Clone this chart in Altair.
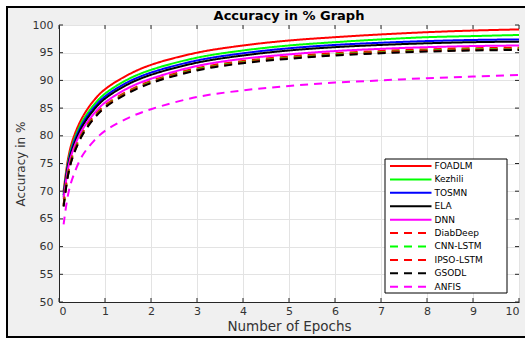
import altair as alt
import pandas as pd

epochs = [0.1, 0.2, 0.3, 0.5, 0.75, 1, 1.5, 2, 3, 4, 5, 6, 7, 8, 9, 10]

foadlm   = [70.0, 76.0, 79.3, 83.2, 86.3, 88.4, 91.0, 92.8, 95.0, 96.3, 97.2, 97.8, 98.3, 98.7, 99.0, 99.2]
kezhili  = [69.6, 75.4, 78.6, 82.5, 85.5, 87.6, 90.2, 91.9, 94.1, 95.4, 96.3, 96.9, 97.4, 97.8, 98.0, 98.2]
tosmn    = [69.3, 75.0, 78.2, 82.0, 85.0, 87.1, 89.7, 91.4, 93.6, 94.9, 95.8, 96.4, 96.8, 97.1, 97.3, 97.4]
ela      = [69.0, 74.7, 77.8, 81.6, 84.6, 86.7, 89.3, 91.0, 93.2, 94.5, 95.4, 96.0, 96.4, 96.7, 96.9, 97.0]
dnn      = [68.6, 74.2, 77.3, 81.0, 83.9, 86.0, 88.6, 90.3, 92.6, 93.9, 94.7, 95.3, 95.7, 96.0, 96.2, 96.3]
diabdeep = [67.6, 73.4, 76.6, 80.4, 83.4, 85.5, 88.1, 89.9, 92.2, 93.5, 94.3, 94.9, 95.3, 95.6, 95.8, 95.9]
cnnlstm  = [67.4, 73.2, 76.4, 80.2, 83.2, 85.3, 87.9, 89.7, 92.0, 93.3, 94.1, 94.7, 95.1, 95.4, 95.6, 95.7]
ipsolstm = [67.3, 73.1, 76.3, 80.1, 83.1, 85.2, 87.8, 89.6, 91.9, 93.2, 94.0, 94.6, 95.0, 95.3, 95.5, 95.6]
gsodl    = [67.2, 73.0, 76.2, 80.0, 83.0, 85.1, 87.7, 89.5, 91.8, 93.1, 93.9, 94.5, 94.9, 95.2, 95.4, 95.5]
anfis    = [64.0, 69.5, 72.5, 76.3, 79.0, 80.9, 83.2, 84.8, 87.0, 88.2, 89.0, 89.6, 90.0, 90.4, 90.7, 91.0]

names = ["FOADLM", "Kezhili", "TOSMN", "ELA", "DNN",
         "DiabDeep", "CNN-LSTM", "IPSO-LSTM", "GSODL", "ANFIS"]
series = [foadlm, kezhili, tosmn, ela, dnn, diabdeep, cnnlstm, ipsolstm, gsodl, anfis]
colors = ["#ff0000", "#00ff00", "#0000ff", "#000000", "#ff00ff",
          "#ff0000", "#00ff00", "#ff0000", "#000000", "#ff00ff"]
dashes = [[1, 0]] * 5 + [[8, 6]] * 5

x_ticks = list(range(0, 11))
y_ticks = list(range(50, 101, 5))

rows = []
for n, vals in zip(names, series):
    for e, v in zip(epochs, vals):
        rows.append({"model": n, "epoch": e, "acc": v})
df = pd.DataFrame(rows)
leg = pd.DataFrame({"model": names, "rank": list(range(len(names)))})
one = pd.DataFrame({"a": [0]})
xt = pd.DataFrame({"epoch": x_ticks})
yt = pd.DataFrame({"acc": y_ticks})

W, H = 460, 277
FONT = "DejaVu Sans"
TICK = 4
color_scale = alt.Scale(domain=names, range=colors)
dash_scale = alt.Scale(domain=names, range=dashes)
x_scale = alt.Scale(domain=[0, 10], nice=False)
y_scale = alt.Scale(domain=[50, 100], nice=False, zero=False)
x_axis = alt.Axis(values=x_ticks, title="Number of Epochs", format="d")
y_axis = alt.Axis(values=y_ticks, title="Accuracy in %", format="d")

lines = alt.Chart(df).mark_line(strokeWidth=2, interpolate="catmull-rom").encode(
    x=alt.X("epoch:Q", scale=x_scale, axis=x_axis),
    y=alt.Y("acc:Q", scale=y_scale, axis=y_axis),
    color=alt.Color("model:N", scale=color_scale, legend=None),
    strokeDash=alt.StrokeDash("model:N", scale=dash_scale, legend=None),
)

# inward ticks on all four sides (MATLAB style)
xtick_b = alt.Chart(xt).mark_rule(color="#262626", strokeWidth=1).encode(
    x=alt.X("epoch:Q", scale=x_scale, axis=x_axis), y=alt.value(H), y2=alt.value(H - TICK))
xtick_t = alt.Chart(xt).mark_rule(color="#262626", strokeWidth=1).encode(
    x=alt.X("epoch:Q", scale=x_scale, axis=x_axis), y=alt.value(0), y2=alt.value(TICK))
ytick_l = alt.Chart(yt).mark_rule(color="#262626", strokeWidth=1).encode(
    y=alt.Y("acc:Q", scale=y_scale, axis=None), x=alt.value(0), x2=alt.value(TICK))
ytick_r = alt.Chart(yt).mark_rule(color="#262626", strokeWidth=1).encode(
    y=alt.Y("acc:Q", scale=y_scale, axis=None), x=alt.value(W), x2=alt.value(W - TICK))

frame_white = alt.Chart(one).mark_rect(fillOpacity=0, stroke="white", strokeWidth=10).encode(
    x=alt.value(-58), x2=alt.value(481), y=alt.value(-24), y2=alt.value(318))
frame_black = alt.Chart(one).mark_rect(fillOpacity=0, stroke="black", strokeWidth=2).encode(
    x=alt.value(-52), x2=alt.value(476), y=alt.value(-18), y2=alt.value(312))

title = alt.Chart(one).mark_text(text="Accuracy in % Graph", font=FONT, fontSize=13,
                                 fontWeight="bold", align="center", baseline="alphabetic",
                                 color="black").encode(x=alt.value(W / 2), y=alt.value(-5.5))

box = alt.Chart(one).mark_rect(fill="white", stroke="black", strokeWidth=1).encode(
    x=alt.value(326), x2=alt.value(448), y=alt.value(134), y2=alt.value(268))

leg_y = alt.Y("rank:Q", scale=alt.Scale(domain=[0, 9], range=[141, 261.7]), axis=None)
leg_lines = alt.Chart(leg).mark_rule(strokeWidth=2).encode(
    x=alt.value(331), x2=alt.value(372.5), y=leg_y,
    color=alt.Color("model:N", scale=color_scale, legend=None),
    strokeDash=alt.StrokeDash("model:N", scale=dash_scale, legend=None),
)
leg_text = alt.Chart(leg).mark_text(font=FONT, fontSize=9, align="left",
                                    baseline="middle", color="black").encode(
    x=alt.value(375.5), y=leg_y, text="model:N")

chart = alt.layer(
    frame_white, frame_black, title, lines, xtick_b, xtick_t, ytick_l, ytick_r,
    box, leg_lines, leg_text
).resolve_scale(
    y="independent"
).properties(
    width=W, height=H,
    autosize=alt.AutoSizeParams(type="none"),
    padding={"left": 59, "top": 25, "right": 6, "bottom": 37},
    background="#f0f0f0",
).configure_view(
    fill="white", stroke="#808080", strokeWidth=1,
).configure_axis(
    grid=True, gridColor="#e3e3e3", gridWidth=1,
    ticks=False, domain=True, domainColor="#262626", domainWidth=1,
    labelFont=FONT, labelFontSize=11, labelColor="#333333",
    titleFont=FONT, titleColor="#333333", titleFontWeight="normal",
).configure_axisX(
    labelPadding=3, titleFontSize=13.5, titlePadding=3,
).configure_axisY(
    labelPadding=6, titleFontSize=12, titlePadding=5,
)

chart.save("out.html", embed_options={"renderer": "svg", "actions": False})
